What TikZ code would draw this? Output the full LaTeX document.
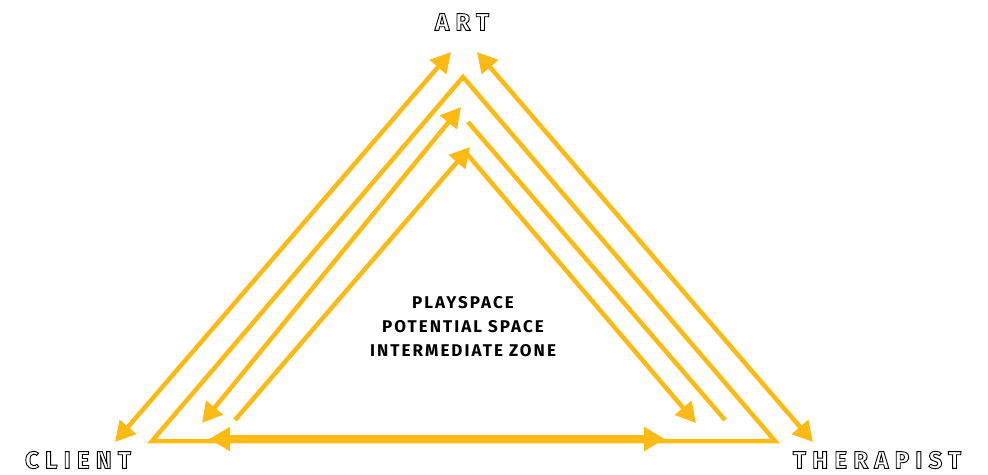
\documentclass[tikz,border=0pt]{standalone}
\usepackage{fontspec}
\setmainfont{Fira Sans}
\newfontfamily\rolefont[LetterSpace=26]{Fira Sans}
\newfontfamily\zonefont[LetterSpace=12]{Fira Sans}
\usetikzlibrary{positioning,arrows.meta}
\definecolor{gold}{RGB}{252,186,18}
\newcommand{\hollow}[1]{\special{pdf:literal direct 1 Tr 0.9 w}#1\special{pdf:literal direct 0 Tr}}
\tikzstyle{frame}=[draw=gold,line width=4.5pt,line join=miter]
\tikzstyle{flow}=[draw=gold,line width=4.5pt]
\tikzstyle{oneway}=[-{Triangle[length=20pt,width=21pt]}]
\tikzstyle{twoway}=[{Triangle[length=20pt,width=21pt]}-{Triangle[length=20pt,width=21pt]}]
\tikzstyle{rolename}=[font=\rolefont\bfseries\fontsize{24}{24}\selectfont,text=black,inner sep=0pt]
\tikzstyle{zone}=[font=\zonefont\bfseries\fontsize{17}{24}\selectfont,align=center,inner sep=0pt]

\begin{document}
\begin{tikzpicture}[x=1pt,y=-1pt]
  \useasboundingbox (0,0) rectangle (988,474);

  % corners of the triangle
  \foreach \pos / \name in {{(463,77)/apex}, {(152,441)/corncl}, {(775,441)/cornth}}
    \path \pos coordinate (\name);

  % ends of the arrows
  \foreach \pos / \name in {{(115,442)/outcl}, {(451,52)/outartl}, {(477,52)/outartr}, {(813,442)/outth},
                            {(202,423)/midcl}, {(461,107)/midart}, {(468,122)/midtop}, {(725,420)/midth},
                            {(235,420)/incl}, {(470,147)/inart}, {(467,154)/intop}, {(696,423)/inth},
                            {(209,439)/basecl}, {(665,439)/baseth}}
    \path \pos coordinate (\name);

  \node[rolename] (art) at (462,22) {\hollow{ART}};
  \node[rolename] (client) at (78,460) {\hollow{CLIENT}};
  \node[rolename] (therapist) at (877,460) {\hollow{THERAPIST}};

  \node[zone] (space) at (463,327) {PLAYSPACE\\POTENTIAL SPACE\\INTERMEDIATE ZONE};

  \draw[frame] (apex) -- (corncl) -- (cornth) -- cycle;

  % Connect the ends with arrows
  \foreach \source / \dest in {outcl/outartl, outartr/outth, midcl/midart}
      \path[flow,twoway] (\source) -- (\dest);
  \foreach \source / \dest in {incl/inart, intop/inth}
      \path[flow,oneway] (\source) -- (\dest);
  \path[flow] (midtop) -- (midth);
  \path[flow,line width=8pt,{Triangle[length=21pt,width=23pt]}-{Triangle[length=21pt,width=23pt]}] (basecl) -- (baseth);
\end{tikzpicture}
\end{document}
